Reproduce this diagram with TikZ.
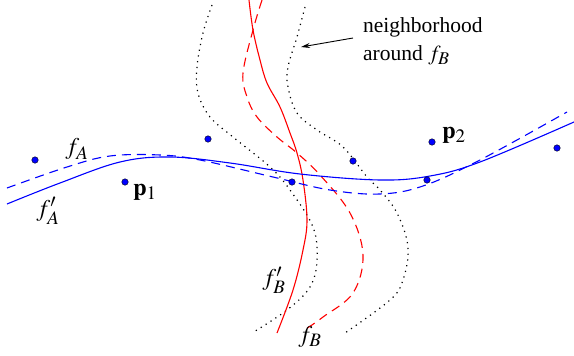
\documentclass[tikz,border=0pt]{standalone}
\usepackage{mathptmx}
\usepackage{fontspec}
\setmainfont{Liberation Serif}
\DeclareMathSizes{21.5}{21.5}{18}{14}
\DeclareMathSizes{24}{24}{19}{15}
\usetikzlibrary{arrows.meta}
\begin{document}
\begin{tikzpicture}[x=1pt, y=-1pt, font=\fontsize{21.5}{26}\selectfont,
		point/.style={circle, draw=black, fill=blue, inner sep=0pt, minimum size=6.5pt, thin},
		label/.style={inner sep=1pt, font=\fontsize{24}{28}\selectfont},
		fA/.style={blue, line width=1.1pt},
		fB/.style={red, line width=1.1pt},
		hood/.style={black, line width=1.2pt, dash pattern=on 1.2pt off 4.6pt}]

	\useasboundingbox (0,0) rectangle (574,356);

	% neighbourhood of f_B
	\draw[hood] plot[smooth, tension=0.6] coordinates {(212,5) (203,33) (197,67) (198,93) (210,117) (233,137) (270,167) (290,190) (313,227) (317,260) (310,287) (287,310) (252,333)};
	\draw[hood] plot[smooth, tension=0.6] coordinates {(305,7) (297,37) (288,67) (288,87) (297,113) (317,130) (343,147) (367,177) (380,190) (397,213) (408,247) (403,280) (390,300) (345,333)};

	% curves f_B, f'_B
	\draw[fB, dashed, dash pattern=on 9pt off 6pt] plot[smooth, tension=0.6] coordinates {(262,0) (253,30) (243,73) (247,97) (257,117) (277,137) (297,153) (320,175) (350,213) (363,255) (353,293) (323,317) (306,329)};
	\draw[fB] plot[smooth, tension=0.6] coordinates {(249,0) (253,30) (260,60) (267,83) (280,107) (290,133) (297,153) (303,180) (307,220) (303,250) (293,290) (277,333)};

	% curves f_A, f'_A
	\draw[fA, dashed, dash pattern=on 9pt off 6pt] plot[smooth, tension=0.6] coordinates {(7,188) (67,167) (110,156) (160,155) (200,160) (273,177) (330,190) (380,194) (423,186) (480,160) (567,112)};
	\draw[fA] plot[smooth, tension=0.6] coordinates {(7,204) (60,183) (120,162) (170,157) (230,163) (300,174) (380,180) (430,176) (480,162) (574,122)};

	% data points
	\node[point] (d1) at (35,160) {};
	\node[point] (d2) at (125,182) {};
	\node[point] (d3) at (208,139) {};
	\node[point] (d4) at (292,182) {};
	\node[point] (d5) at (353,161) {};
	\node[point] (d6) at (432,142) {};
	\node[point] (d7) at (427,180) {};
	\node[point] (d8) at (557,148) {};

	\node[label] (lfA) at (77,149) {$f_A$};
	\node[label] (lfA2) at (48,211) {$f'_A$};
	\node[label] (lp1) at (145,192) {$\mathbf{p}_1$};
	\node[label] (lp2) at (454,135) {$\mathbf{p}_2$};
	\node[label] (lfB2) at (274,280) {$f'_B$};
	\node[label] (lfB) at (310,337) {$f_B$};

	\node[anchor=west, inner sep=1pt] (nb1) at (362,27) {neighborhood};
	\node[anchor=west, inner sep=1pt] (nb2) at (362,55) {around $f_B$};

	\coordinate (tail) at (353,38);
	\coordinate (tip) at (301,47);
	\draw[-{Stealth[length=9pt, width=5pt]}, line width=0.9pt] (tail) -- (tip);
\end{tikzpicture}
\end{document}
